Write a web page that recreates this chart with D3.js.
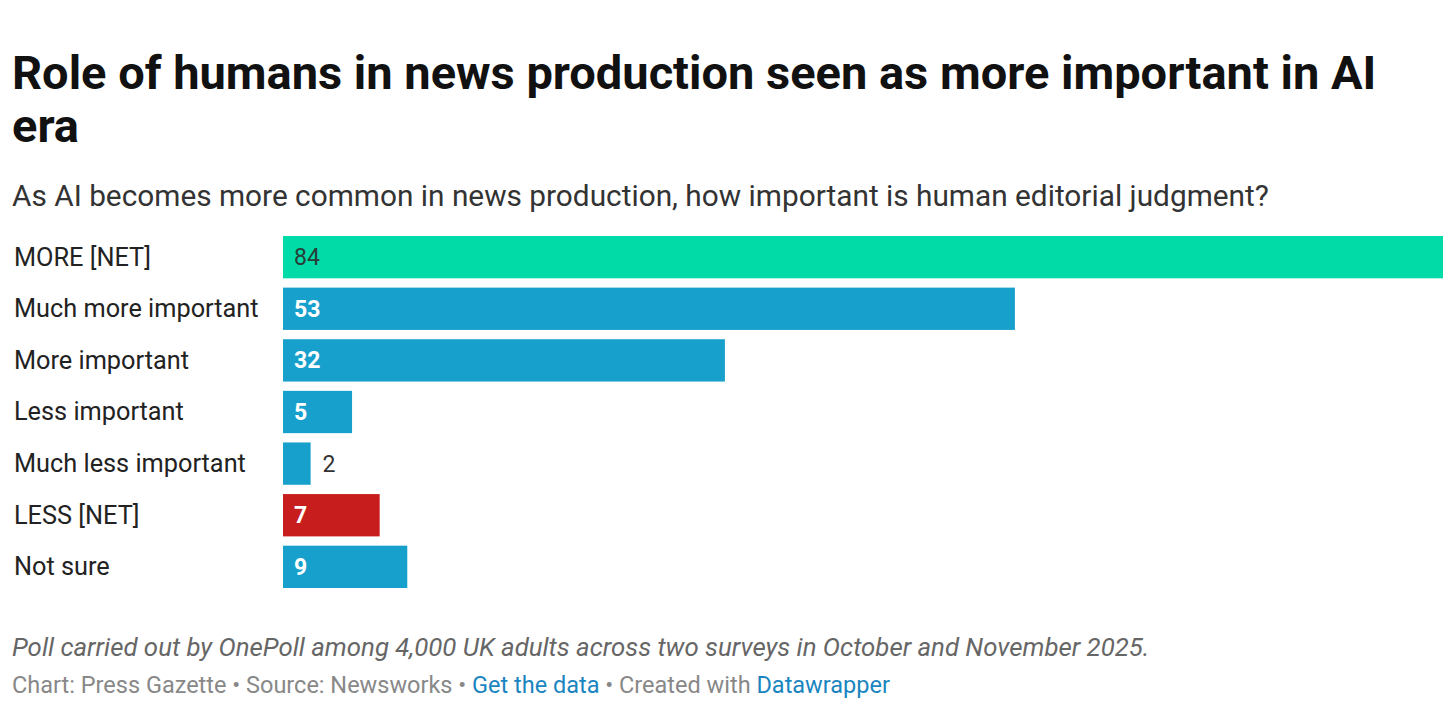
<!DOCTYPE html>
<html><head><meta charset="utf-8">
<script src="https://cdn.jsdelivr.net/npm/d3@7"></script>
<style>
body{margin:0;background:#fff;}
svg text{font-family:Roboto,"Noto Sans",sans-serif;}
</style></head>
<body>
<svg id="c" width="1456" height="720"></svg>
<script>
const categories = ["MORE [NET]","Much more important","More important","Less important","Much less important","LESS [NET]","Not sure"];
const values = [84,53,32,5,2,7,9];
const barColors = ["#00dba8","#18a0cd","#18a0cd","#18a0cd","#18a0cd","#c71e1d","#18a0cd"];
const valueColors = ["#2a3d37","#ffffff","#ffffff","#ffffff","#333333","#ffffff","#ffffff"];
const titleLines = ["Role of humans in news production seen as more important in AI","era"];
const subtitle = "As AI becomes more common in news production, how important is human editorial judgment?";
const note = "Poll carried out by OnePoll among 4,000 UK adults across two surveys in October and November 2025.";

const svg = d3.select("#c");
svg.append("rect").attr("width",1456).attr("height",720).attr("fill","#fff");

const title = svg.append("text").attr("x",12).attr("y",89)
  .attr("font-size",47).attr("font-weight",700).attr("fill","#111");
titleLines.forEach((t,i)=>title.append("tspan").attr("x",12).attr("dy",i?53:0).text(t));

svg.append("text").attr("x",12).attr("y",206).attr("font-size",29.8).attr("fill","#333").text(subtitle);

const x = d3.scaleLinear().domain([0,84]).range([283,1443]);
const y = d3.scaleBand().domain(categories).range([236,588]).paddingInner(0.18).paddingOuter(0);

const g = svg.append("g");
g.selectAll("rect.bar").data(categories).join("rect").attr("class","bar")
  .attr("x",x(0)).attr("y",d=>y(d)).attr("height",y.bandwidth())
  .attr("width",(d,i)=>x(values[i])-x(0)).attr("fill",(d,i)=>barColors[i]);

g.selectAll("text.lab").data(categories).join("text").attr("class","lab")
  .attr("x",14).attr("y",d=>y(d)+y.bandwidth()/2).attr("dy","0.33em")
  .attr("font-size",25.3).attr("fill","#222").text(d=>d);

g.selectAll("text.val").data(categories).join("text").attr("class","val")
  .attr("x",(d,i)=>values[i]<3 ? x(values[i])+12 : x(0)+11)
  .attr("y",d=>y(d)+y.bandwidth()/2).attr("dy","0.35em")
  .attr("font-size",23).attr("font-weight",(d,i)=>values[i]<3||i===0?400:700)
  .attr("fill",(d,i)=>valueColors[i]).text((d,i)=>values[i]);

svg.append("text").attr("x",12).attr("y",656).attr("font-size",25.8).attr("font-style","italic")
  .attr("fill","#666").text(note);

const f = svg.append("text").attr("x",12).attr("y",693).attr("font-size",23.5).attr("fill","#888");
f.append("tspan").text("Chart: Press Gazette • Source: Newsworks • ");
f.append("tspan").attr("fill","#1a85c0").text("Get the data");
f.append("tspan").text(" • Created with ");
f.append("tspan").attr("fill","#1a85c0").text("Datawrapper");
</script>
</body></html>
